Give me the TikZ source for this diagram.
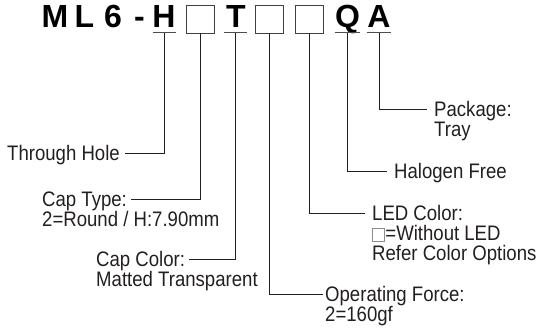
\documentclass[tikz,border=0pt]{standalone}
\usepackage{fontspec}
\setmainfont{Liberation Sans}
\newfontfamily\labfont[FakeStretch=0.885]{Liberation Sans}
\definecolor{ink}{HTML}{231F20}
\newcommand{\emptybox}{{\setlength{\fboxsep}{0pt}\setlength{\fboxrule}{0.6pt}\fcolorbox{black!45}{white}{\rule{11.5pt}{0pt}\rule{0pt}{11.5pt}}\hspace{0.5pt}}}
\begin{document}
\begin{tikzpicture}[x=1pt,y=-1pt,
  title/.style={font=\fontsize{32}{32}\selectfont\bfseries, text=black, inner sep=0pt, anchor=base},
  codebox/.style={draw=black!75, line width=0.9pt, minimum size=28pt, inner sep=0pt},
  lab/.style={font=\labfont\fontsize{21}{21}\selectfont, text=ink, inner sep=0pt, text height=15pt, text depth=0pt, anchor=west},
  labnext/.style={font=\labfont\fontsize{21}{21}\selectfont, text=ink, inner sep=0pt, anchor=base west},
  conn/.style={draw=ink, line width=0.8pt},
  uline/.style={draw=black!70, line width=1pt}]
\useasboundingbox (0,0) rectangle (536,329);
% title
\node[title] (tM) at (55,28) {M};
\node[title] (tL) at (84.5,28) {L};
\node[title] (t6) at (113,28) {6};
\node[title] (tD) at (139.5,28) {-};
\node[title] (tH) at (164,28) {H};
\node[title] (tT) at (236,28) {T};
\node[title] (tQ) at (347.5,28) {Q};
\node[title] (tA) at (379,28) {A};
\node[codebox] (b1) at (200,19) {};
\node[codebox] (b2) at (269,19) {};
\node[codebox] (b3) at (309.5,19) {};
% underlines
\coordinate (uH) at (164,33);
\coordinate (uT) at (235,33);
\coordinate (uQ) at (347,33);
\coordinate (uA) at (379,33);
\draw[uline] ([xshift=-11.5pt]uH) -- ([xshift=11.5pt]uH);
\draw[uline] ([xshift=-11pt]uT) -- ([xshift=12pt]uT);
\draw[uline] ([xshift=-12pt]uQ) -- ([xshift=13pt]uQ);
\draw[uline] ([xshift=-12pt]uA) -- ([xshift=12pt]uA);
% labels
\node[lab] (th) at (7,153) {Through Hole};
\node[lab] (ct) at (42,199) {Cap Type:};
\node[labnext] (ct2) at ([yshift=-19.5pt]ct.base west) {2=Round / H:7.90mm};
\node[lab] (cc) at (96,259) {Cap Color:};
\node[labnext] (cc2) at ([yshift=-20pt]cc.base west) {Matted Transparent};
\node[lab] (of) at (325,294) {Operating Force:};
\node[labnext] (of2) at ([yshift=-20pt]of.base west) {2=160gf};
\node[lab] (led) at (372,213) {LED Color:};
\node[labnext] (led2) at ([yshift=-20pt]led.base west) {\emptybox=Without LED};
\node[labnext] (led3) at ([yshift=-20pt]led2.base west) {Refer Color Options};
\node[lab] (hf) at (394,171) {Halogen Free};
\node[lab] (pk) at (434,109) {Package:};
\node[labnext] (pk2) at ([yshift=-20pt]pk.base west) {Tray};
% connectors
\draw[conn] (uH) |- ([xshift=5pt]th.east);
\draw[conn] (b1.south) |- ([xshift=4pt]ct.east);
\draw[conn] (uT) |- ([xshift=4pt]cc.east);
\draw[conn] (b2.south) |- ([xshift=-2pt]of.west);
\draw[conn] (b3.south) |- ([xshift=-7pt]led.west);
\draw[conn] (uQ) |- ([xshift=-7pt]hf.west);
\draw[conn] (uA) |- ([xshift=-7pt]pk.west);
\end{tikzpicture}
\end{document}
